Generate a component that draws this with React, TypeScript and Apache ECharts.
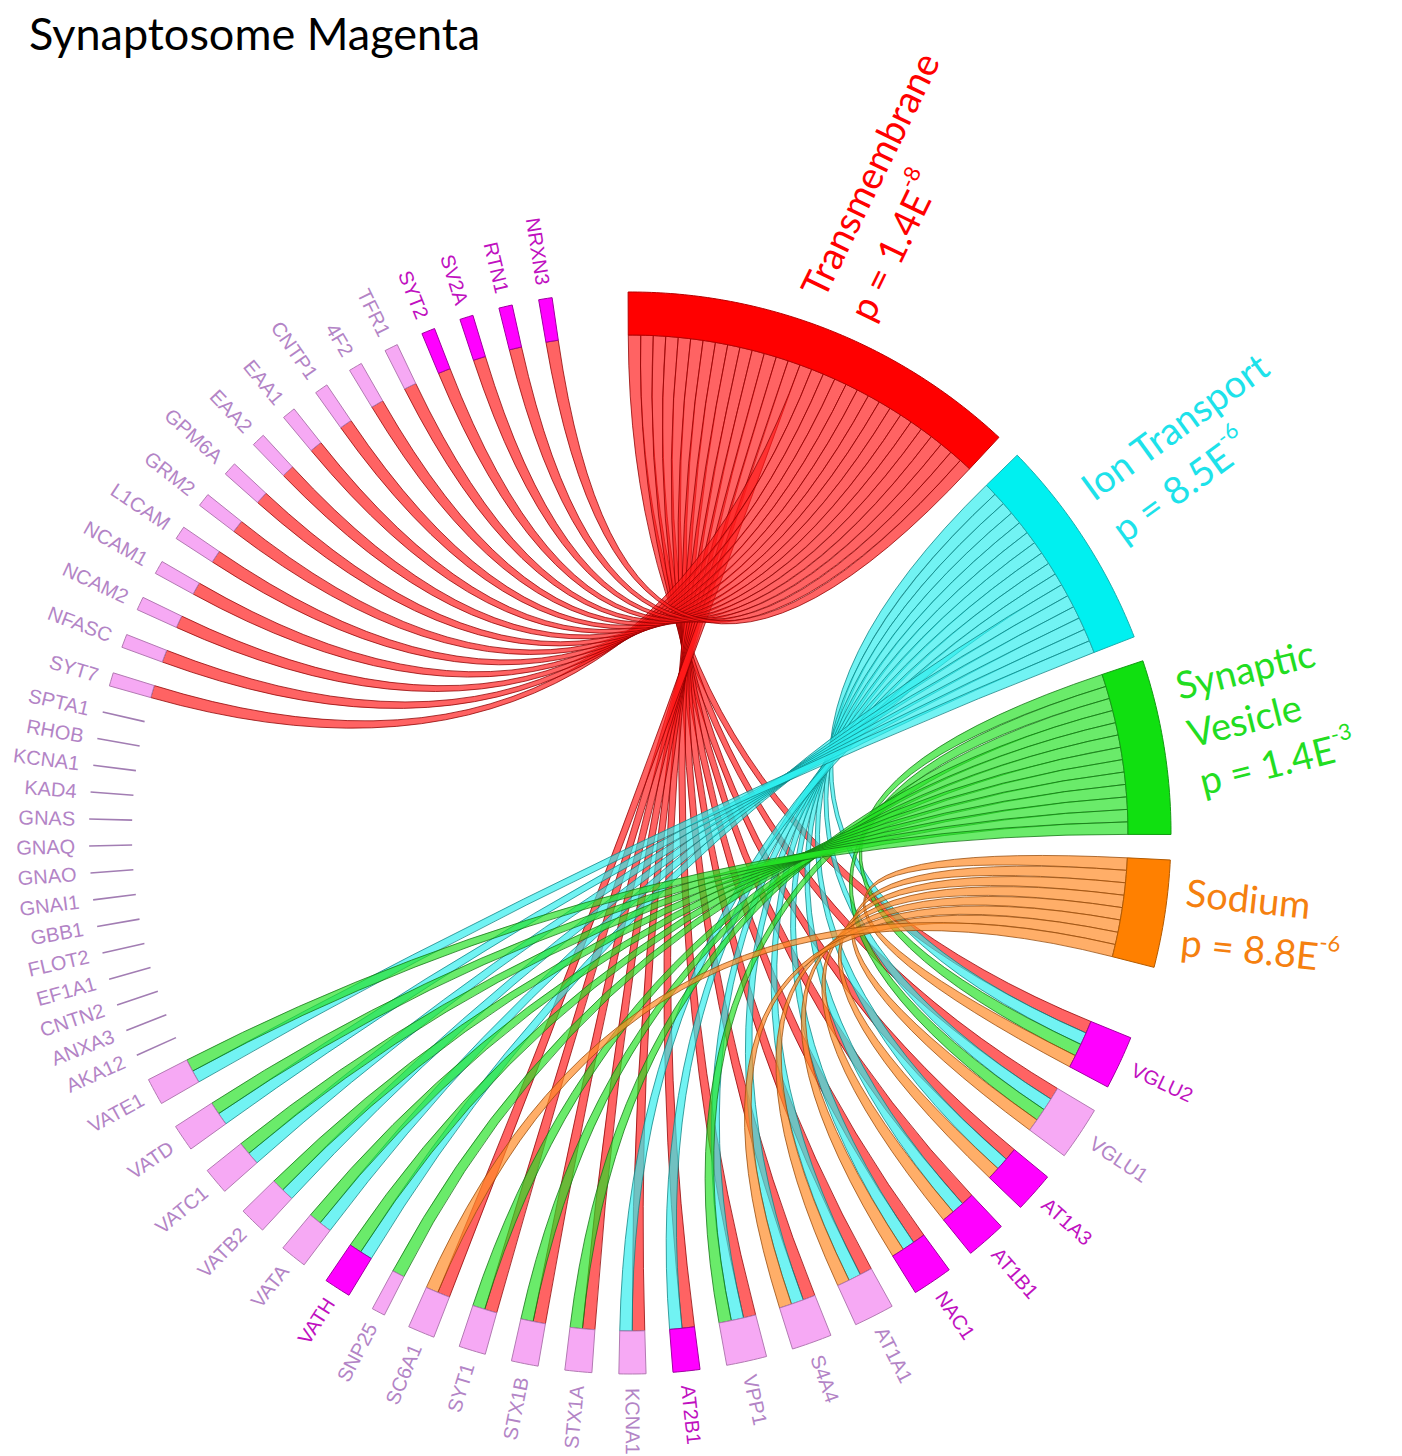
import React, { useEffect, useRef } from "react";
import * as echarts from "echarts";

// ---------------- data ----------------
const titleText = "Synaptosome Magenta";

// genes in drawing order (from the top, going anticlockwise round the circle)
const genes = [
  "NRXN3", "RTN1", "SV2A", "SYT2", "TFR1", "4F2", "CNTP1", "EAA1", "EAA2", "GPM6A",
  "GRM2", "L1CAM", "NCAM1", "NCAM2", "NFASC", "SYT7", "SPTA1", "RHOB", "KCNA1", "KAD4",
  "GNAS", "GNAQ", "GNAO", "GNAI1", "GBB1", "FLOT2", "EF1A1", "CNTN2", "ANXA3", "AKA12",
  "VATE1", "VATD", "VATC1", "VATB2", "VATA", "VATH", "SNP25", "SC6A1", "SYT1", "STX1B",
  "STX1A", "KCNA1", "AT2B1", "VPP1", "S4A4", "AT1A1", "NAC1", "AT1B1", "AT1A3", "VGLU1",
  "VGLU2",
];

// genes drawn in strong magenta (the rest are pale pink)
const highlightedGenes = ["NRXN3", "RTN1", "SV2A", "SYT2", "VATH", "AT2B1", "NAC1", "AT1B1", "AT1A3", "VGLU2"];

const terms = ["Transmembrane", "Ion Transport", "Synaptic Vesicle", "Sodium"];
const termLabelLines = [["Transmembrane"], ["Ion Transport"], ["Synaptic", "Vesicle"], ["Sodium"]];
const termPMantissa = ["1.4", "8.5", "1.4", "8.8"];
const termPExponent = ["-8", "-6", "-3", "-6"];

// members of each term (a duplicated name refers to the linked, later gene)
const transmembraneGenes = [
  "NRXN3", "RTN1", "SV2A", "SYT2", "TFR1", "4F2", "CNTP1", "EAA1", "EAA2", "GPM6A",
  "GRM2", "L1CAM", "NCAM1", "NCAM2", "NFASC", "SYT7", "SC6A1", "SYT1", "STX1B", "STX1A",
  "KCNA1", "AT2B1", "VPP1", "S4A4", "AT1A1", "NAC1", "AT1B1", "AT1A3", "VGLU1", "VGLU2",
];
const ionTransportGenes = [
  "VATE1", "VATD", "VATC1", "VATB2", "VATA", "VATH", "KCNA1", "AT2B1", "VPP1", "S4A4",
  "AT1A1", "NAC1", "AT1B1", "AT1A3", "VGLU1", "VGLU2",
];
const synapticVesicleGenes = [
  "VATE1", "VATD", "VATC1", "VATB2", "VATA", "VATH", "SNP25", "SYT1", "STX1B", "STX1A",
  "VPP1", "VGLU1", "VGLU2",
];
const sodiumGenes = ["SC6A1", "S4A4", "AT1A1", "NAC1", "AT1B1", "AT1A3", "VGLU1", "VGLU2"];

const termMembers = [transmembraneGenes, ionTransportGenes, synapticVesicleGenes, sodiumGenes];

// ---------------- layout & style ----------------
const CENTER = [630, 833];
const R_OUT = 541;
const R_IN = 498;
const R_LABEL = 555;
const UNIT = 1.44; // degrees per link
const GENE_GAP = 2.86;
const GENE_START = 261.72; // leading edge of first gene (screen degrees, clockwise)
const TERM_START = 269.8;
const TERM_GAP = 2.7;

const termStyles = [
  { band: "#FF0000", bandStroke: "#B80000", ribbon: "rgba(255,25,25,0.68)", ribbonStroke: "rgba(140,0,0,0.85)", text: "#FF0000" },
  { band: "#00F0F0", bandStroke: "#1AAFAF", ribbon: "rgba(45,238,238,0.68)", ribbonStroke: "rgba(15,130,130,0.85)", text: "#1DE2EA" },
  { band: "#10E010", bandStroke: "#139C13", ribbon: "rgba(35,225,35,0.68)", ribbonStroke: "rgba(20,115,20,0.85)", text: "#22DD22" },
  { band: "#FF8000", bandStroke: "#B35A00", ribbon: "rgba(255,140,40,0.7)", ribbonStroke: "rgba(150,75,10,0.85)", text: "#F5800F" },
];
const termLabelLayout = [
  { dAngle: -0.2, radius: 566, rotate: -64, fontSize: 38, lineHeight: 53 },
  { dAngle: -1.6, radius: 570, rotate: -36, fontSize: 38, lineHeight: 52 },
  { dAngle: -0.9, radius: 567, rotate: -14, fontSize: 38, lineHeight: 49 },
  { dAngle: -0.1, radius: 560, rotate: 6, fontSize: 38, lineHeight: 50 },
];

const norm = (a: number) => ((a % 360) + 360) % 360;

// ---------------- derived layout ----------------
const geneIdx = (name: string) => genes.lastIndexOf(name);
const geneTerms: number[][] = genes.map(() => []);
termMembers.forEach((list, t) => list.forEach((n) => geneTerms[geneIdx(n)].push(t)));

type Span = { lo: number; hi: number };
const geneLayout: Span[] = [];
{
  let hi = GENE_START;
  genes.forEach((_, i) => {
    const lo = hi - geneTerms[i].length * UNIT;
    geneLayout.push({ lo, hi });
    hi = lo - GENE_GAP;
  });
}
const termLayout: Span[] = [];
{
  let lo = TERM_START;
  termMembers.forEach((list) => {
    const hi = lo + list.length * UNIT;
    termLayout.push({ lo, hi });
    lo = hi + TERM_GAP;
  });
}

type Ribbon = { t: number; g: number; g1: number; g2: number; t1: number; t2: number };
const ribbons: Ribbon[] = [];
termMembers.forEach((list, t) => {
  const sorted = list.map(geneIdx).sort((a, b) => b - a);
  sorted.forEach((g, m) => {
    const k = geneTerms[g].indexOf(t);
    const gl = geneLayout[g].lo;
    const tl = termLayout[t].lo;
    ribbons.push({
      t, g,
      g1: gl + k * UNIT, g2: gl + (k + 1) * UNIT,
      t1: tl + m * UNIT, t2: tl + (m + 1) * UNIT,
    });
  });
});

function arcPoints(api: any, r: number, a0: number, a1: number) {
  const steps = Math.max(2, Math.ceil(Math.abs(a1 - a0) / 0.5));
  const pts: number[][] = [];
  for (let k = 0; k <= steps; k++) {
    const a = a0 + ((a1 - a0) * k) / steps;
    pts.push(api.coord([r, norm(a)]));
  }
  return pts;
}

function buildOption() {
  const ribbonSeries = {
    type: "custom",
    coordinateSystem: "polar",
    silent: true,
    data: ribbons.map((r) => [R_IN, norm((r.g1 + r.g2) / 2)]),
    renderItem: (params: any, api: any) => {
      const rb = ribbons[params.dataIndex];
      const st = termStyles[rb.t];
      const P = (a: number) => api.coord([R_IN, norm(a)]);
      const C = api.coord([0, 0]);
      const g1 = P(rb.g1), g2 = P(rb.g2), t1 = P(rb.t1), t2 = P(rb.t2);
      const f = (p: number[]) => `${p[0].toFixed(2)} ${p[1].toFixed(2)}`;
      const d = `M${f(g1)} L${f(g2)} Q${f(C)} ${f(t1)} L${f(t2)} Q${f(C)} ${f(g1)} Z`;
      return {
        type: "path",
        shape: { pathData: d },
        style: { fill: st.ribbon, stroke: st.ribbonStroke, lineWidth: 0.9 },
      };
    },
  };

  const bandSeries = {
    type: "custom",
    coordinateSystem: "polar",
    silent: true,
    data: termLayout.map((L) => [R_OUT, norm((L.lo + L.hi) / 2)]),
    renderItem: (params: any, api: any) => {
      const L = termLayout[params.dataIndex];
      const st = termStyles[params.dataIndex];
      const pts = arcPoints(api, R_OUT, L.lo, L.hi).concat(arcPoints(api, R_IN, L.hi, L.lo));
      return {
        type: "polygon",
        shape: { points: pts },
        style: { fill: st.band, stroke: st.bandStroke, lineWidth: 1 },
      };
    },
  };

  const geneSeries = {
    type: "custom",
    coordinateSystem: "polar",
    silent: true,
    data: geneLayout.map((L) => [R_OUT, norm((L.lo + L.hi) / 2)]),
    renderItem: (params: any, api: any) => {
      const i = params.dataIndex;
      const L = geneLayout[i];
      const name = genes[i];
      const strong = highlightedGenes.includes(name) && geneTerms[i].length > 0;
      const mid = norm((L.lo + L.hi) / 2);
      const children: any[] = [];
      if (geneTerms[i].length > 0) {
        const pts = arcPoints(api, R_OUT, L.lo, L.hi).concat(arcPoints(api, R_IN, L.hi, L.lo));
        children.push({
          type: "polygon",
          shape: { points: pts },
          style: {
            fill: strong ? "#FF00FF" : "#F6A9F4",
            stroke: strong ? "#A000A0" : "#B37AB3",
            lineWidth: 1,
          },
        });
      } else {
        const a = api.coord([R_IN, mid]);
        const b = api.coord([R_OUT, mid]);
        children.push({
          type: "line",
          shape: { x1: a[0], y1: a[1], x2: b[0], y2: b[1] },
          style: { stroke: "#A27DB3", lineWidth: 1.6 },
        });
      }
      const outward = mid <= 92 || mid >= 270;
      const dir = outward ? mid : mid - 180;
      const p = api.coord([R_LABEL, mid]);
      children.push({
        type: "text",
        x: p[0],
        y: p[1],
        rotation: (-dir * Math.PI) / 180,
        style: {
          text: name,
          fill: strong ? "#C010C0" : "#B384C6",
          fontSize: 20,
          fontFamily: "'Liberation Sans', Arial, sans-serif",
          align: outward ? "left" : "right",
          verticalAlign: "middle",
        },
      });
      return { type: "group", children };
    },
  };

  const termLabelSeries = {
    type: "custom",
    coordinateSystem: "polar",
    silent: true,
    data: termLayout.map((L, t) => [termLabelLayout[t].radius, norm((L.lo + L.hi) / 2 + termLabelLayout[t].dAngle)]),
    renderItem: (params: any, api: any) => {
      const t = params.dataIndex;
      const lay = termLabelLayout[t];
      const L = termLayout[t];
      const st = termStyles[t];
      const p = api.coord([lay.radius, norm((L.lo + L.hi) / 2 + lay.dAngle)]);
      const lines = termLabelLines[t].map((s) => `{m|${s}}`);
      lines.push(`{m|p = ${termPMantissa[t]}E}{s|${termPExponent[t]}}`);
      return {
        type: "text",
        x: p[0],
        y: p[1],
        rotation: (-lay.rotate * Math.PI) / 180,
        style: {
          text: lines.join("\n"),
          align: "left",
          verticalAlign: "middle",
          rich: {
            m: { fill: st.text, fontSize: lay.fontSize, fontFamily: "Lato, 'Open Sans', sans-serif", lineHeight: lay.lineHeight },
            s: { fill: st.text, fontSize: Math.round(lay.fontSize * 0.58), fontFamily: "Lato, 'Open Sans', sans-serif", lineHeight: Math.round(lay.fontSize * 0.75), verticalAlign: "top" },
          },
        },
      };
    },
  };

  return {
    animation: false,
    backgroundColor: "#FFFFFF",
    title: {
      text: titleText,
      left: 24,
      top: 5,
      textStyle: { fontFamily: "Lato, 'Open Sans', sans-serif", fontSize: 45, fontWeight: "normal", color: "#000000" },
    },
    polar: { center: CENTER, radius: R_OUT },
    angleAxis: { type: "value", min: 0, max: 360, startAngle: 0, clockwise: true, show: false },
    radiusAxis: { type: "value", min: 0, max: R_OUT, show: false },
    series: [ribbonSeries, bandSeries, geneSeries, termLabelSeries],
  };
}

export default function App() {
  const ref = useRef<HTMLDivElement>(null);
  useEffect(() => {
    const chart = echarts.init(ref.current as HTMLDivElement, null, { renderer: "svg" });
    chart.setOption(buildOption() as any);
    return () => chart.dispose();
  }, []);
  return (
    <div
      ref={ref}
      style={{ position: "absolute", left: 0, top: 0, width: 1402, height: 1456, background: "#FFFFFF" }}
    />
  );
}
